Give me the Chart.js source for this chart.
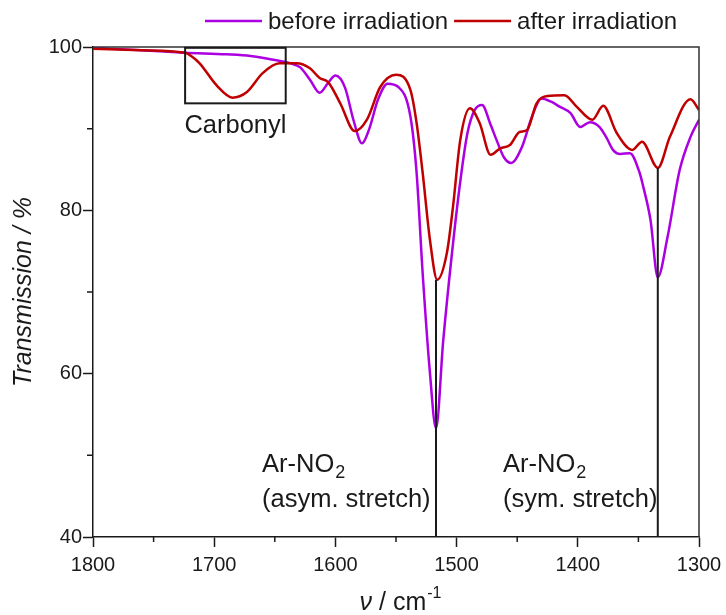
<!DOCTYPE html>
<html>
<head>
<meta charset="utf-8">
<script src="https://cdn.jsdelivr.net/npm/chart.js@4.4.1/dist/chart.umd.min.js"></script>
<style>
  html, body { margin: 0; padding: 0; background: #fff; }
</style>
</head>
<body>
<canvas id="myChart" width="726" height="615"></canvas>
<script>
// spectra (wavenumber in cm-1, transmission in %)
var beforeNu = [1800, 1760, 1724, 1690, 1670, 1650, 1637, 1629, 1621, 1613, 1606, 1600, 1592, 1585, 1578, 1572, 1565, 1557, 1548, 1538, 1533, 1528, 1522, 1517, 1511, 1504, 1497, 1491, 1485, 1479, 1472, 1467, 1461, 1455, 1446, 1438, 1430, 1422, 1415, 1406, 1398, 1390, 1382, 1376, 1371, 1365, 1357, 1349, 1346, 1340, 1334, 1326, 1316, 1307, 1300];
var beforeT = [99.9, 99.6, 99.3, 99.1, 98.9, 98.4, 98.0, 97.5, 96.0, 94.4, 95.6, 96.5, 95.0, 91.0, 88.2, 90.0, 93.5, 95.5, 95.1, 91.4, 84.6, 72.3, 60.1, 53.3, 64.1, 74.5, 83.5, 89.5, 92.3, 92.9, 90.5, 88.6, 86.5, 85.8, 87.8, 91.4, 93.7, 93.3, 92.7, 91.9, 90.2, 90.8, 90.2, 88.8, 87.4, 86.9, 87.0, 84.6, 82.9, 78.8, 71.8, 76.7, 84.9, 89.0, 91.1];

var afterNu = [1800, 1760, 1724, 1719, 1712, 1698, 1685, 1673, 1660, 1646, 1632, 1621, 1613, 1606, 1596, 1584, 1574, 1563, 1550, 1538, 1533, 1528, 1522, 1516, 1508, 1503, 1497, 1489, 1481, 1472, 1464, 1456, 1448, 1442, 1434, 1425, 1411, 1401, 1388, 1379, 1368, 1355, 1347, 1334, 1324, 1307, 1300];
var afterT = [99.8, 99.6, 99.3, 98.9, 98.0, 95.3, 93.8, 94.5, 96.8, 98.0, 98.0, 97.4, 96.2, 95.7, 93.1, 89.7, 91.1, 95.1, 96.6, 94.7, 90.7, 84.6, 76.4, 71.5, 74.8, 80.4, 88.6, 92.5, 90.7, 86.8, 87.6, 88.0, 89.6, 89.8, 93.1, 94.0, 94.1, 92.7, 91.1, 92.8, 89.5, 87.4, 88.4, 85.2, 89.0, 93.6, 92.3];

// Ar-NO2 marker lines: from the "after" minimum down to the axis
var markerNu = [1517, 1334];
var markerTop = [71.5, 85.2];
var axisMinT = 40;

// carbonyl box corners
var boxNu = [1724, 1641];
var boxT = [99.9, 93.1];

var xTicks = [1800, 1700, 1600, 1500, 1400, 1300];
var yTicks = [40, 60, 80, 100];

var seriesNames = ["before irradiation", "after irradiation"];
var seriesColors = ["#AC00E2", "#C00000"];

function toPoints(xs, ys) {
    return xs.map(function (x, i) { return { x: x, y: ys[i] }; });
}

var FONT = "'Liberation Sans', Arial, sans-serif";
var INK = "#1a1a1a";

var markerSets = markerNu.map(function (nu, i) {
    return {
        label: "",
        data: [{ x: nu, y: markerTop[i] }, { x: nu, y: axisMinT }],
        borderColor: INK,
        borderWidth: 2,
        pointRadius: 0,
        tension: 0
    };
});

// major ticks are drawn by the scale, minor ones by the plugin (shorter)
function majorTickColor(list) {
    return function (c) { return list.indexOf(c.tick && c.tick.value) >= 0 ? INK : "rgba(0,0,0,0)"; };
}

var extras = {
    id: "extras",
    afterDraw: function (chart) {
        var ctx = chart.ctx;
        var xs = chart.scales.x, ys = chart.scales.y;
        var a = chart.chartArea;
        ctx.save();

        // top and right frame
        ctx.strokeStyle = "#333";
        ctx.lineWidth = 1.5;
        ctx.beginPath();
        ctx.moveTo(a.left, a.top);
        ctx.lineTo(a.right, a.top);
        ctx.lineTo(a.right, a.bottom);
        ctx.stroke();

        // minor ticks
        ctx.strokeStyle = INK;
        ctx.lineWidth = 1.5;
        ctx.beginPath();
        xs.ticks.forEach(function (t) {
            if (xTicks.indexOf(t.value) < 0) {
                var px = xs.getPixelForValue(t.value);
                ctx.moveTo(px, a.bottom);
                ctx.lineTo(px, a.bottom + 5);
            }
        });
        ys.ticks.forEach(function (t) {
            if (yTicks.indexOf(t.value) < 0) {
                var py = ys.getPixelForValue(t.value);
                ctx.moveTo(a.left, py);
                ctx.lineTo(a.left - 6, py);
            }
        });
        ctx.stroke();

        // carbonyl box
        var bx1 = xs.getPixelForValue(boxNu[0]), bx2 = xs.getPixelForValue(boxNu[1]);
        var by1 = ys.getPixelForValue(boxT[0]), by2 = ys.getPixelForValue(boxT[1]);
        ctx.strokeStyle = INK;
        ctx.lineWidth = 2;
        ctx.strokeRect(bx1, by1, bx2 - bx1, by2 - by1);

        ctx.fillStyle = INK;
        ctx.textBaseline = "alphabetic";
        ctx.font = "25.5px " + FONT;
        ctx.textAlign = "center";
        ctx.fillText("Carbonyl", (bx1 + bx2) / 2, 133);

        // Ar-NO2 labels
        function arNo2(x, y) {
            ctx.textAlign = "left";
            ctx.font = "25.5px " + FONT;
            ctx.fillText("Ar-NO", x, y);
            var w = ctx.measureText("Ar-NO").width;
            ctx.font = "18px " + FONT;
            ctx.fillText("2", x + w + 1, y + 6);
            ctx.font = "25.5px " + FONT;
        }
        arNo2(262, 472);
        ctx.fillText("(asym. stretch)", 262, 507);
        arNo2(503, 472);
        ctx.fillText("(sym. stretch)", 503, 507);

        // y title
        ctx.save();
        ctx.translate(31, 292);
        ctx.rotate(-Math.PI / 2);
        ctx.textAlign = "center";
        ctx.font = "italic 25px " + FONT;
        ctx.fillText("Transmission / %", 0, 0);
        ctx.restore();

        // x title
        ctx.textAlign = "left";
        ctx.font = "italic 25px " + FONT;
        var p1 = "\u03BD", p2 = " / cm", p3 = "-1";
        var w1 = ctx.measureText(p1).width;
        ctx.font = "25px " + FONT;
        var w2 = ctx.measureText(p2).width;
        ctx.font = "16px " + FONT;
        var w3 = ctx.measureText(p3).width;
        var sx = 400 - (w1 + w2 + w3) / 2;
        ctx.font = "italic 25px " + FONT;
        ctx.fillText(p1, sx, 610);
        ctx.font = "25px " + FONT;
        ctx.fillText(p2, sx + w1, 610);
        ctx.font = "16px " + FONT;
        ctx.fillText(p3, sx + w1 + w2 + 1, 598);

        // legend
        var lx = 205, ly = 21;
        ctx.font = "24px " + FONT;
        seriesNames.forEach(function (name, i) {
            ctx.strokeStyle = seriesColors[i];
            ctx.lineWidth = 2.5;
            ctx.beginPath();
            ctx.moveTo(lx, ly);
            ctx.lineTo(lx + 57, ly);
            ctx.stroke();
            ctx.fillStyle = INK;
            ctx.textAlign = "left";
            ctx.textBaseline = "middle";
            ctx.fillText(name, lx + 63, ly + 1);
            lx += 63 + ctx.measureText(name).width + 6;
        });

        ctx.restore();
    }
};

new Chart("myChart", {
    type: "line",
    data: {
        datasets: markerSets.concat([
            {
                label: seriesNames[1],
                data: toPoints(afterNu, afterT),
                borderColor: seriesColors[1],
                borderWidth: 2.5,
                pointRadius: 0,
                cubicInterpolationMode: "monotone"
            },
            {
                label: seriesNames[0],
                data: toPoints(beforeNu, beforeT),
                borderColor: seriesColors[0],
                borderWidth: 2.5,
                pointRadius: 0,
                cubicInterpolationMode: "monotone"
            }
        ])
    },
    options: {
        responsive: false,
        animation: false,
        events: [],
        layout: { padding: { top: 47, right: 27, left: 0, bottom: 0 } },
        plugins: {
            legend: { display: false },
            tooltip: { enabled: false }
        },
        scales: {
            x: {
                type: "linear",
                reverse: true,
                min: 1300,
                max: 1800,
                afterFit: function (s) { s.height = 78; s.paddingLeft = 0; s.paddingRight = 0; },
                ticks: {
                    stepSize: 50,
                    autoSkip: false,
                    maxRotation: 0,
                    padding: 6,
                    color: INK,
                    font: { family: FONT, size: 20 },
                    callback: function (v) { return xTicks.indexOf(v) >= 0 ? v : ""; }
                },
                grid: { drawOnChartArea: false, tickLength: 10, tickColor: majorTickColor(xTicks), tickWidth: 1.5 },
                border: { color: INK, width: 1.5 }
            },
            y: {
                min: 40,
                max: 100,
                afterFit: function (s) { s.width = 93; s.paddingTop = 0; s.paddingBottom = 0; },
                ticks: {
                    stepSize: 10,
                    autoSkip: false,
                    padding: 1,
                    color: INK,
                    font: { family: FONT, size: 20 },
                    callback: function (v) { return yTicks.indexOf(v) >= 0 ? v : ""; }
                },
                grid: { drawOnChartArea: false, tickLength: 10, tickColor: majorTickColor(yTicks), tickWidth: 1.5 },
                border: { color: INK, width: 1.5 }
            }
        }
    },
    plugins: [extras]
});
</script>
</body>
</html>
